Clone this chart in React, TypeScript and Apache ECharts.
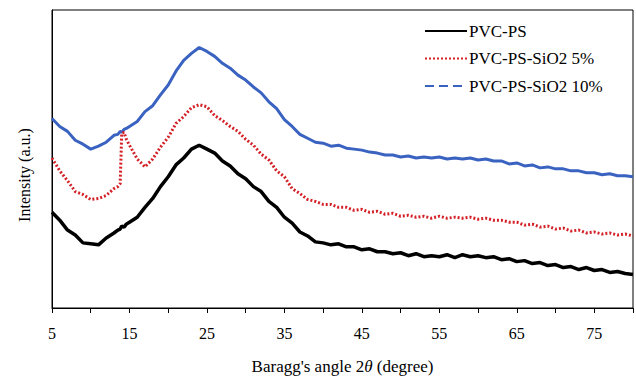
import React, { useEffect, useRef } from "react";
import * as echarts from "echarts";

// 2θ positions (degrees)
const angles = [
  5, 6, 7, 8, 9, 10, 11, 12, 13, 13.5, 13.8, 14, 14.3, 14.6, 15, 16, 17, 18, 19, 20,
  21, 22, 23, 24, 25, 26, 27, 28, 29, 30, 31, 32, 33, 34, 35, 36, 37, 38, 39, 40,
  41, 42, 43, 44, 45, 46, 47, 48, 49, 50, 51, 52, 53, 54, 55, 56, 57, 58, 59, 60,
  61, 62, 63, 64, 65, 66, 67, 68, 69, 70, 71, 72, 73, 74, 75, 76, 77, 78, 79, 80,
];

// Intensity (a.u., offset stacked as in the figure)
const pvcPs = [
  97, 89, 79, 74, 66, 65, 64, 71, 76, 79, 80, 83, 82, 85, 87, 92, 102, 111, 123, 133,
  145, 152, 161, 165, 161, 157, 149, 144, 136, 131, 123, 118, 108, 102, 92, 86, 77, 73, 67, 66,
  64, 65, 62, 62, 59, 60, 57, 57, 55, 56, 53, 55, 52, 53, 52, 54, 51, 54, 52, 53,
  51, 52, 49, 50, 47, 48, 45, 46, 43, 44, 41, 42, 39, 41, 38, 39, 36, 37, 35, 34,
];

const pvcPsSio2_5 = [
  152, 139, 129, 118, 115, 110, 111, 114, 121, 123, 126, 177, 178, 171, 165, 151, 143, 151, 163, 173,
  187, 194, 203, 206, 204, 195, 190, 184, 179, 171, 165, 156, 150, 139, 133, 121, 116, 110, 108, 105,
  105, 102, 102, 99, 100, 97, 98, 95, 96, 93, 94, 92, 93, 91, 93, 91, 92, 91, 92, 90,
  91, 89, 89, 87, 87, 84, 85, 82, 83, 80, 81, 78, 79, 76, 77, 75, 76, 74, 75, 73,
];

const pvcPsSio2_10 = [
  192, 184, 179, 170, 166, 161, 164, 168, 175, 176, 179, 178, 181, 182, 184, 189, 199, 205, 216, 226,
  240, 251, 258, 264, 260, 255, 248, 243, 236, 231, 224, 218, 209, 202, 191, 184, 176, 172, 168, 167,
  164, 165, 162, 161, 160, 158, 157, 155, 155, 153, 154, 152, 153, 152, 153, 151, 152, 151, 152, 150,
  151, 149, 149, 146, 147, 144, 145, 142, 143, 141, 141, 139, 139, 137, 137, 135, 136, 134, 134, 133,
];

const seriesNames = ["PVC-PS", "PVC-PS-SiO2 5%", "PVC-PS-SiO2 10%"];
const xTickLabels = [5, 15, 25, 35, 45, 55, 65, 75];

const FONT = "'Liberation Serif', 'Times New Roman', serif";
const COLORS = ["#000000", "#d42027", "#3a62c0"];

export default function App() {
  const ref = useRef<HTMLDivElement>(null);

  useEffect(() => {
    if (!ref.current) return;
    const chart = echarts.init(ref.current, undefined, { renderer: "svg" });
    const pairs = (vals: number[]) => angles.map((a, i) => [a, vals[i]]);

    const legendRows = [31, 58.5, 86];
    const legendDash: any[] = [null, [2, 2], [9, 5]];
    const legendGraphics: any[] = [];
    seriesNames.forEach((name, i) => {
      legendGraphics.push({
        type: "line",
        shape: { x1: 425, y1: legendRows[i], x2: 467, y2: legendRows[i] },
        style: {
          stroke: COLORS[i],
          lineWidth: 2,
          lineDash: legendDash[i] || undefined,
        },
      });
      legendGraphics.push({
        type: "text",
        x: 469,
        y: legendRows[i],
        style: {
          text: name,
          fontFamily: FONT,
          fontSize: 17,
          fill: "#000",
          textAlign: "left",
          textVerticalAlign: "middle",
        },
      });
    });

    chart.setOption({
      animation: false,
      backgroundColor: "#ffffff",
      grid: {
        left: 52,
        right: 3,
        top: 10,
        bottom: 67,
        show: true,
        borderColor: "#000",
        borderWidth: 1,
      },
      xAxis: {
        type: "value",
        min: 5,
        max: 80,
        interval: 5,
        name: "Baragg's angle 2{i|θ} (degree)",
        nameLocation: "middle",
        nameGap: 50,
        nameTextStyle: {
          fontFamily: FONT,
          fontSize: 17,
          color: "#000",
          rich: { i: { fontFamily: FONT, fontSize: 17, fontStyle: "italic", color: "#000" } },
        },
        axisLine: { show: true, lineStyle: { color: "#000", width: 1 } },
        axisTick: { show: true, inside: false, length: 5, lineStyle: { color: "#000" } },
        splitLine: { show: false },
        axisLabel: {
          fontFamily: FONT,
          fontSize: 16,
          color: "#000",
          margin: 17,
          formatter: (v: number) => (xTickLabels.includes(v) ? String(v) : ""),
        },
      },
      yAxis: {
        type: "value",
        min: 0,
        max: 302,
        axisLine: { show: true, lineStyle: { color: "#000", width: 1 } },
        axisTick: { show: false },
        axisLabel: { show: false },
        splitLine: { show: false },
      },
      graphic: [
        {
          type: "text",
          x: 24,
          y: 175,
          rotation: Math.PI / 2,
          style: {
            text: "Intensity (a.u.)",
            fontFamily: FONT,
            fontSize: 16,
            fill: "#000",
            textAlign: "center",
            textVerticalAlign: "middle",
          },
        },
        ...legendGraphics,
      ],
      series: [
        {
          name: seriesNames[0],
          type: "line",
          symbol: "none",
          data: pairs(pvcPs),
          lineStyle: { color: COLORS[0], width: 3.5 },
          itemStyle: { color: COLORS[0] },
          z: 3,
        },
        {
          name: seriesNames[1],
          type: "line",
          symbol: "none",
          data: pairs(pvcPsSio2_5),
          lineStyle: { color: COLORS[1], width: 3, type: [2, 2] },
          itemStyle: { color: COLORS[1] },
          z: 2,
        },
        {
          name: seriesNames[2],
          type: "line",
          symbol: "none",
          data: pairs(pvcPsSio2_10),
          lineStyle: { color: COLORS[2], width: 3 },
          itemStyle: { color: COLORS[2] },
          z: 1,
        },
      ],
    });

    return () => chart.dispose();
  }, []);

  return (
    <div
      ref={ref}
      style={{ position: "fixed", left: 0, top: 0, width: 636, height: 380 }}
    />
  );
}
